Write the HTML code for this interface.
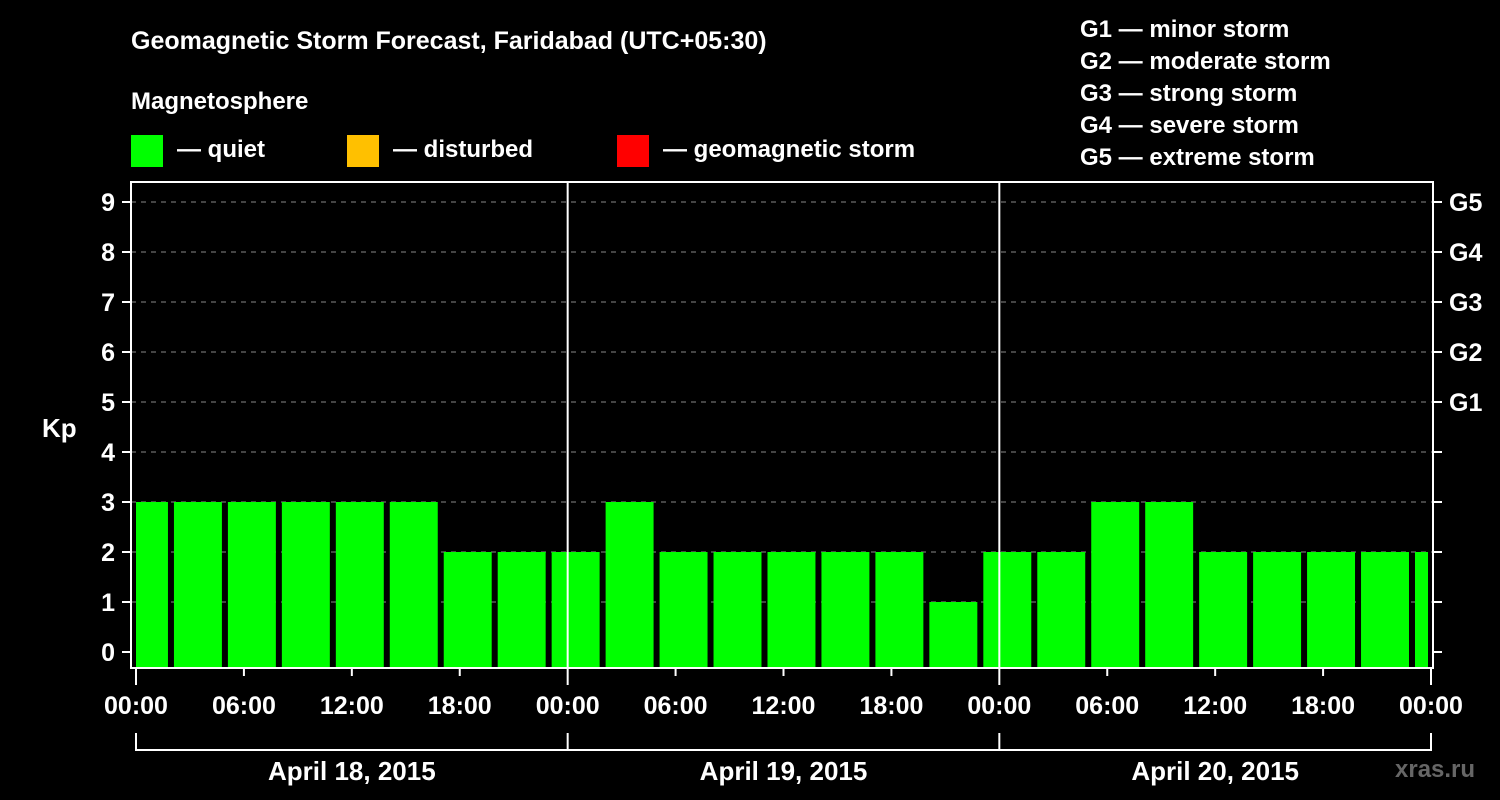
<!DOCTYPE html>
<html><head><meta charset="utf-8"><style>
html,body{margin:0;padding:0;background:#000;}
svg{display:block;font-family:"Liberation Sans",Arial,sans-serif;font-weight:bold;}
</style></head><body>
<svg id="chart" width="1500" height="800" viewBox="0 0 1500 800">
<rect width="1500" height="800" fill="#000"/>
<text x="131" y="49" fill="#fff" font-size="25">Geomagnetic Storm Forecast, Faridabad (UTC+05:30)</text>
<text x="131" y="109" fill="#fff" font-size="24">Magnetosphere</text>
<g><rect x="131" y="135" width="32" height="32" fill="#00ff00"/><text x="177" y="157" fill="#fff" font-size="24">— quiet</text></g>
<g><rect x="347" y="135" width="32" height="32" fill="#ffc000"/><text x="393" y="157" fill="#fff" font-size="24">— disturbed</text></g>
<g><rect x="617" y="135" width="32" height="32" fill="#ff0000"/><text x="663" y="157" fill="#fff" font-size="24">— geomagnetic storm</text></g>
<g fill="#fff" font-size="24">
<text x="1080" y="37">G1 — minor storm</text>
<text x="1080" y="69">G2 — moderate storm</text>
<text x="1080" y="101">G3 — strong storm</text>
<text x="1080" y="133">G4 — severe storm</text>
<text x="1080" y="165">G5 — extreme storm</text>
</g>
<text x="42" y="437" fill="#fff" font-size="26">Kp</text>
<text x="1395" y="777" fill="#666" font-size="24">xras.ru</text>
<g id="grid"></g><g id="bars"></g><g id="axes"></g>
</svg>
<script>
const kpValues=[3,3,3,3,3,3,2,2,2,3,2,2,2,2,2,1,2,2,3,3,2,2,2,2,2];
const yTicks=[0,1,2,3,4,5,6,7,8,9];
const gLabels=["G1","G2","G3","G4","G5"];
const xTickLabels=["00:00","06:00","12:00","18:00","00:00","06:00","12:00","18:00","00:00","06:00","12:00","18:00","00:00"];
const dayLabels=["April 18, 2015","April 19, 2015","April 20, 2015"];
const NS="http://www.w3.org/2000/svg";
const L=131,R=1433,T=182,B=668;
const x=h=>136+h*(1431-136)/72;
const y=v=>652-v*50;
function mk(p,tag,a){const e=document.createElementNS(NS,tag);for(const k in a)e.setAttribute(k,a[k]);p.appendChild(e);return e;}
const grid=document.getElementById('grid'),bars=document.getElementById('bars'),axes=document.getElementById('axes');
yTicks.forEach(v=>{
 if(v>0){const g=mk(grid,'line',{x1:L,x2:R,y1:y(v),y2:y(v),stroke:'#888','stroke-width':1,'stroke-dasharray':'5,5'});
 
 }
 mk(axes,'line',{x1:122,x2:L,y1:y(v),y2:y(v),stroke:'#fff','stroke-width':2});
 mk(axes,'line',{x1:R,x2:1442,y1:y(v),y2:y(v),stroke:'#fff','stroke-width':2});
 const t=mk(axes,'text',{x:115,y:y(v)+9,fill:'#fff','font-size':25,'text-anchor':'end'});t.textContent=v;
 
 
});
gLabels.forEach((g,i)=>{const t=mk(axes,'text',{x:1449,y:y(5+i)+9,fill:'#fff','font-size':25});t.textContent=g;
 
 });
const h0=2.11-3;
kpValues.forEach((v,i)=>{
 const s=Math.max(0,h0+3*i), e=Math.min(72,h0+3*(i+1));
 const x1=x(s), x2=x(e)-(e>=72?3:6);
 const r=mk(bars,'rect',{x:x1,y:y(v),width:Math.max(0,x2-x1),height:B-y(v),fill:v>=5?'#ff0000':(v>=4?'#ffc000':'#00ff00')});
 
 
});
[1,2].forEach(d=>mk(axes,'line',{x1:x(24*d),x2:x(24*d),y1:T,y2:B,stroke:'#fff','stroke-width':2}));
mk(axes,'rect',{x:L,y:T,width:R-L,height:B-T,fill:'none',stroke:'#fff','stroke-width':2});
xTickLabels.forEach((lb,i)=>{
 mk(axes,'line',{x1:x(6*i),x2:x(6*i),y1:B,y2:i%4==0?685:676,stroke:'#fff','stroke-width':2});
 const t=mk(axes,'text',{x:x(6*i),y:714,fill:'#fff','font-size':25,'text-anchor':'middle'});t.textContent=lb;
 
 
});
mk(axes,'line',{x1:x(0),x2:x(72),y1:750,y2:750,stroke:'#fff','stroke-width':2});
[0,1,2,3].forEach(d=>mk(axes,'line',{x1:x(24*d),x2:x(24*d),y1:733,y2:751,stroke:'#fff','stroke-width':2}));
dayLabels.forEach((lb,i)=>{const t=mk(axes,'text',{x:x(24*i+12),y:780,fill:'#fff','font-size':26,'text-anchor':'middle'});t.textContent=lb;
 
 });
</script>
</body></html>
